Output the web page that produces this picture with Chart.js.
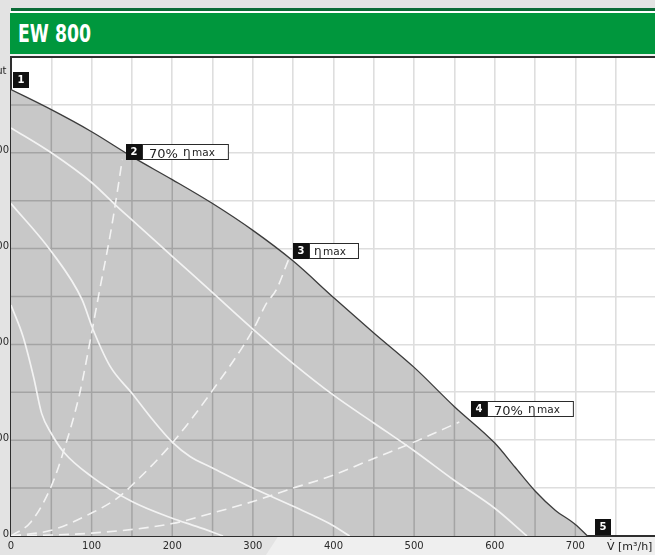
<!DOCTYPE html>
<html><head><meta charset="utf-8">
<script src="https://cdn.jsdelivr.net/npm/chart.js@4.4.1/dist/chart.umd.min.js"></script>
<style>
html,body{margin:0;padding:0;width:655px;height:555px;overflow:hidden;background:#e3e3e3;}
body{position:relative;font-family:"DejaVu Sans",sans-serif;}
#light{position:absolute;left:0;top:0;width:655px;height:555px;background:#efefef;clip-path:polygon(266px 555px,292px 515px,655px 515px,655px 555px);}
#topline{position:absolute;left:11px;top:8px;width:644px;height:2.5px;background:#0a6b36;}
#gap{position:absolute;left:10px;top:10.5px;width:645px;height:2px;background:#ffffff;}
#band{position:absolute;left:10px;top:12.5px;width:645px;height:41px;background:#00973d;}
#under{position:absolute;left:10px;top:53.5px;width:645px;height:3px;background:#f2f2f2;}
#title{position:absolute;left:18px;top:19px;color:#fff;font-weight:bold;font-size:25px;line-height:normal;font-family:"Liberation Sans Narrow","DejaVu Sans Condensed","DejaVu Sans",sans-serif;transform-origin:0 0;white-space:nowrap;}
#wrap{position:absolute;left:-40px;top:54px;width:700px;height:501px;}
</style></head>
<body>
<div id="light"></div>
<div id="topline"></div><div id="gap"></div><div id="band"></div><div id="under"></div>
<div id="title">EW 800</div>
<div id="wrap"><canvas id="c" width="700" height="501"></canvas></div>
<script>
// ---- data ----
const fanX = [0,50,100,150,200,250,300,350,400,450,500,550,600,625,650,675,700,715];
const fanY = [466,445,422,396,372,347,319,287,249,212,176,135,97,72,47,27,12,0];

const speed1X = [0,50,100,129,150,200,250,300,350,400,450,500,550,600,640];
const speed1Y = [426,400,369,346,330,292,254,216,180,147,118,89,58,29,0];
const speed2X = [0,50,88,102,123,150,176,200,222,250,300,350,395,420];
const speed2Y = [347,297,247,215,177,149,121,98,83,71,50,31,13,0];
const speed3X = [0,15,28,38,50,65,100,150,200,230,263];
const speed3Y = [241,208,166,128,107,88,62,36,18.5,10,0];

const sys1X = [0,25,50,65,85,100,110,123,129,138];
const sys1Y = [0,15,52,88,148,212,257,314,344,393];
const sys2X = [0,50,100,131,150,200,250,300,317,329,344];
const sys2Y = [0,6,24,39,53,97,152,215,243,257,288];
const sys3X = [0,100,200,250,300,350,395,450,497,556];
const sys3Y = [0,3,13,24,36,50,62,81,97,119];

const opX = [2,143,350,570,724];
const opY = [468,393,289,124,1];
const opNum = ['1','2','3','4','5'];
const opPrefix = ['', '70%', '', '70%', ''];
const opEta = [false,true,true,true,false];

const xTicksMax = 800, yTicksMax = 500;
const xLabel = 'V\u0307 [m\u00B3/h]';
const yLabel = '\u0394p fa out';

// ---- helpers ----
const pts = (xs, ys) => xs.map((x,i)=>({x:x, y:ys[i]}));

(function(){
  const t = document.getElementById('title');
  const w = t.getBoundingClientRect().width;
  t.style.transform = 'scaleX(' + (73 / w) + ')';
})();

const deco = {
  id:'deco',
  beforeDraw(chart){
    const {ctx, chartArea:a} = chart;
    ctx.save(); ctx.fillStyle = '#ffffff';
    ctx.fillRect(a.left, a.top, a.right-a.left, a.bottom-a.top);
    ctx.restore();
  },
  afterDatasetDraw(chart, args){
    if (args.index !== 0) return;
    const meta = args.meta, p = meta.data, ctx = chart.ctx, a = chart.chartArea;
    const xs = chart.scales.x, ys = chart.scales.y;
    if (meta.dataset && meta.dataset.updateControlPoints) meta.dataset.updateControlPoints(a, 'x');
    const y0 = ys.getPixelForValue(0);
    ctx.save();
    ctx.beginPath();
    ctx.moveTo(p[0].x, p[0].y);
    for (let i=1;i<p.length;i++){
      const q = p[i-1], c = p[i];
      if (q.cp2x !== undefined && c.cp1x !== undefined) ctx.bezierCurveTo(q.cp2x,q.cp2y,c.cp1x,c.cp1y,c.x,c.y);
      else ctx.lineTo(c.x,c.y);
    }
    ctx.lineTo(p[p.length-1].x, y0);
    ctx.lineTo(p[0].x, y0);
    ctx.closePath();
    ctx.clip();
    ctx.strokeStyle = '#a4a4a4'; ctx.lineWidth = 1.5;
    xs.ticks.forEach(t=>{ if (t.value===0) return; const px = xs.getPixelForValue(t.value);
      ctx.beginPath(); ctx.moveTo(px,a.top); ctx.lineTo(px,a.bottom); ctx.stroke(); });
    ys.ticks.forEach(t=>{ if (t.value===0) return; const py = ys.getPixelForValue(t.value);
      ctx.beginPath(); ctx.moveTo(a.left,py); ctx.lineTo(a.right,py); ctx.stroke(); });
    ctx.restore();
  },
  afterDatasetsDraw(chart){
    const ctx = chart.ctx, xs = chart.scales.x, ys = chart.scales.y;
    ctx.save();
    for (let i=0;i<opX.length;i++){
      const px = Math.round(xs.getPixelForValue(opX[i])), py = Math.round(ys.getPixelForValue(opY[i]));
      const s = 16;
      if (opEta[i]) {
        ctx.font = '13px "DejaVu Sans"';
        const w1 = opPrefix[i] ? ctx.measureText(opPrefix[i]).width + 5 : 0;
        ctx.font = '12px "DejaVu Sans"';
        const w2 = ctx.measureText('\u03B7').width + 1.5;
        ctx.font = '10.5px "DejaVu Sans"';
        const w3 = ctx.measureText('max').width;
        const tw = w1 + w2 + w3;
        const padL = opPrefix[i] ? 7 : 5;
        const bw = padL + tw + (opPrefix[i] ? 14 : 13);
        ctx.fillStyle = '#ffffff';
        ctx.fillRect(px+s, py-s, bw, s);
        ctx.strokeStyle = '#2a2a2a'; ctx.lineWidth = 1;
        ctx.strokeRect(px+s+0.5, py-s+0.5, bw-1, s-1);
        ctx.fillStyle = '#1e1e1e';
        ctx.textAlign = 'left'; ctx.textBaseline = 'alphabetic';
        let cx = px + s + padL;
        if (opPrefix[i]) { ctx.font = '13px "DejaVu Sans"'; ctx.fillText(opPrefix[i], cx, py-2); cx += w1; }
        ctx.font = '12px "DejaVu Sans"'; ctx.fillText('\u03B7', cx, py-4); cx += w2;
        ctx.font = '10.5px "DejaVu Sans"'; ctx.fillText('max', cx, py-4);
      }
      ctx.fillStyle = '#111111';
      ctx.fillRect(px, py-s, s, s);
      ctx.fillStyle = '#ffffff';
      ctx.font = 'bold 10px "DejaVu Sans"';
      ctx.textAlign = 'center'; ctx.textBaseline = 'middle';
      ctx.fillText(opNum[i], px + s/2, py - s/2 + 0.5);
    }
    ctx.restore();
  },
  afterDraw(chart){
    const ctx = chart.ctx, a = chart.chartArea;
    ctx.save();
    ctx.fillStyle = '#222';
    ctx.font = '11px "DejaVu Sans"';
    ctx.textAlign = 'left'; ctx.textBaseline = 'alphabetic';
    ctx.fillText(xLabel, 647, a.bottom + 13.5);
    ctx.font = '10px "DejaVu Sans"';
    ctx.textAlign = 'right';
    ctx.fillText(yLabel, 46.5, 20);
    ctx.restore();
  }
};

const white = '#f3f3f3';
const solid = (xs, ys) => ({data: pts(xs,ys), borderColor: white, borderWidth: 1.7, fill:false, order: 5, cubicInterpolationMode:'monotone'});
const dashed = (xs, ys) => ({data: pts(xs,ys), borderColor: 'rgba(246,246,246,0.95)', borderWidth: 1.6, borderDash:[10,6], fill:false, order: 5, cubicInterpolationMode:'monotone'});

new Chart(document.getElementById('c'), {
  type: 'line',
  data: {
    datasets: [
      {data: pts(fanX, fanY), borderWidth: 0, borderColor:'rgba(0,0,0,0)', backgroundColor: '#c8c8c8', fill: 'origin', order: 10, cubicInterpolationMode:'monotone'},
      solid(speed1X, speed1Y),
      solid(speed2X, speed2Y),
      solid(speed3X, speed3Y),
      dashed(sys1X, sys1Y),
      dashed(sys2X, sys2Y),
      dashed(sys3X, sys3Y),
      {data: pts(fanX, fanY), borderColor: '#3c3c3c', borderWidth: 1.3, fill: false, order: 0, cubicInterpolationMode:'monotone'}
    ]
  },
  options: {
    responsive: false, animation: false, devicePixelRatio: 1,
    layout: {padding: {top: 3, right: 4, left: 0, bottom: 0}},
    elements: {point: {radius: 0, hoverRadius: 0}},
    plugins: {legend: {display: false}, tooltip: {enabled: false}, title: {display: false}},
    events: [],
    scales: {
      x: {
        type: 'linear', min: 0, max: xTicksMax,
        afterFit(s){ s.height = 19; s.paddingLeft = 0; s.paddingRight = 0; },
        ticks: {stepSize: 50, autoSkip: false, maxRotation: 0, padding: 4, color: '#2a2a2a',
          font: {family: 'DejaVu Sans', size: 10},
          callback: v => (v % 100 === 0 && v !== xTicksMax) ? String(v) : ''},
        grid: {drawTicks: false, lineWidth: 1.6,
          color: c => (c.tick && c.tick.value === 0) ? 'rgba(0,0,0,0)' : '#dedede'},
        border: {display: true, color: '#2e2e2e', width: 2}
      },
      y: {
        type: 'linear', min: 0, max: yTicksMax,
        afterFit(s){ s.width = 51; s.paddingTop = 0; s.paddingBottom = 0; },
        ticks: {stepSize: 50, autoSkip: false, padding: 2, labelOffset: -2, color: '#2a2a2a',
          font: {family: 'DejaVu Sans', size: 10},
          callback: v => (v % 100 === 0 && v !== yTicksMax) ? String(v) : ''},
        grid: {drawTicks: false,
          lineWidth: c => (c.tick && c.tick.value === yTicksMax) ? 2 : 1.6,
          color: c => (c.tick && c.tick.value === yTicksMax) ? '#2e2e2e' : ((c.tick && c.tick.value === 0) ? 'rgba(0,0,0,0)' : '#dedede')},
        border: {display: true, color: '#2e2e2e', width: 2}
      }
    }
  },
  plugins: [deco]
});
</script>
</body></html>
